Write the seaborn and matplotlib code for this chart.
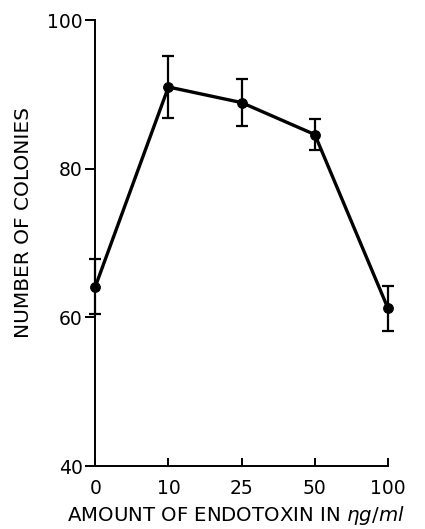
import matplotlib
matplotlib.use("Agg")
import matplotlib.pyplot as plt
import seaborn as sns
import pandas as pd

doses = ["0", "10", "25", "50", "100"]
colonies = [64.1, 91.0, 88.9, 84.6, 61.2]
errors = [3.7, 4.2, 3.2, 2.1, 3.0]
y_ticks = [40, 60, 80, 100]

sns.set_theme(style="white")
plt.rcParams['font.family'] = ['DejaVu Sans']

df = pd.DataFrame({"dose": doses, "colonies": colonies, "err": errors})

fig = plt.figure(figsize=(4.25, 5.29), dpi=100)
ax = fig.add_axes([0.224, 0.119, 0.689, 0.843])

pos = list(range(len(doses)))
eb = ax.errorbar(pos, df["colonies"], yerr=df["err"], fmt="none", ecolor="black",
                 elinewidth=1.6, capsize=4, capthick=1.6, zorder=2)
for artist in list(eb.lines[1]) + list(eb.lines[2]):
    artist.set_clip_on(False)
sns.lineplot(x=pos, y=df["colonies"], ax=ax, color="black", linewidth=2.4,
             marker="o", markersize=7, markeredgecolor="black", zorder=3,
             clip_on=False)

ax.set_xlim(0, 4)
ax.set_ylim(40, 100)
ax.set_xticks(pos)
ax.set_xticklabels(doses)
ax.set_yticks(y_ticks)

for s in ["top", "right"]:
    ax.spines[s].set_visible(False)
for s in ["left", "bottom"]:
    ax.spines[s].set_color("black")
    ax.spines[s].set_linewidth(1.4)

ax.tick_params(axis="y", direction="out", length=7, width=1.4, colors="black",
               labelsize=13.5, pad=2, left=True)
ax.tick_params(axis="x", direction="in", length=6, width=1.4, colors="black",
               labelsize=13.5, pad=9, bottom=True)

ax.set_xlabel("AMOUNT OF ENDOTOXIN IN $\\eta g/ml$", fontsize=14.2, color="black")
ax.set_ylabel("NUMBER OF COLONIES", fontsize=14.5, color="black")
ax.xaxis.set_label_coords(0.481, -0.085)
ax.yaxis.set_label_coords(-0.212, 0.547)
ax.grid(False)

fig.savefig("out.png", dpi=100, facecolor="white")
